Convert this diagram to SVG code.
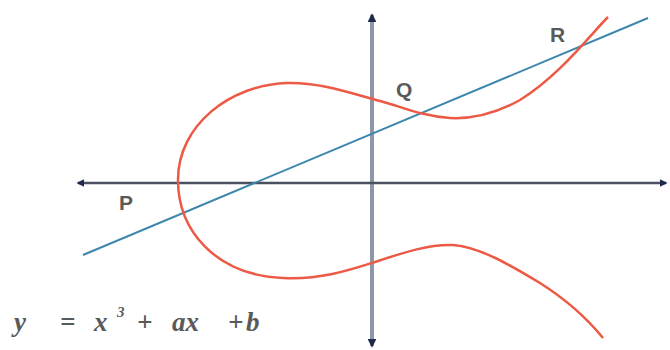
<svg xmlns="http://www.w3.org/2000/svg" width="670" height="350" viewBox="0 0 670 350">
<style>
.lbl{font-family:"Liberation Sans",Arial,sans-serif;font-size:21px;font-weight:bold;fill:#5a5a5a}
.eq{font-family:"Liberation Serif","Times New Roman",serif;font-style:italic;font-weight:bold;font-size:27px;fill:#5a5a5a}
</style>
<defs>
<marker id="ah" viewBox="0 0 10 10" refX="8" refY="5" markerWidth="3.2" markerHeight="3.2" orient="auto" markerUnits="strokeWidth">
<path d="M0,0 L10,5 L0,10 z" fill="#1e2a4a"/>
</marker>
<marker id="ah2" viewBox="0 0 10 10" refX="8" refY="5" markerWidth="2.2" markerHeight="2.2" orient="auto" markerUnits="strokeWidth">
<path d="M0,0 L10,5 L0,10 z" fill="#1e2a4a"/>
</marker>
</defs>
<rect width="670" height="350" fill="#fff"/>
<g id="axes">
<line x1="372" y1="340" x2="372" y2="15" stroke="#8e97aa" stroke-width="4" marker-end="url(#ah2)"/>
<line x1="372" y1="30" x2="372" y2="346" stroke="#8e97aa" stroke-width="4" marker-end="url(#ah2)"/>
<line x1="372" y1="183" x2="78" y2="183" stroke="#4a505e" stroke-width="2.5" marker-end="url(#ah)"/>
<line x1="372" y1="183" x2="666" y2="183" stroke="#4a505e" stroke-width="2.5" marker-end="url(#ah)"/>
</g>
<g id="line">
<line x1="83" y1="255" x2="648" y2="18" stroke="#3d86ad" stroke-width="2"/>
</g>
<g id="curve">
<path d="M608,17 C590,35 560,75 520,100 C495,114 470,119 450,118 C420,116 400,106 380,101 C350,93 320,82 287,83 C230,85 178,125 178,180 C178,230 215,275 283,278 C320,280 350,270 375,262 C405,252 430,244 453,245 C480,247 510,265 540,283 C570,302 590,322 603,338" fill="none" stroke="#ec5a45" stroke-width="2.5"/>
</g>
<g id="labels">
<text class="lbl" x="119" y="210">P</text>
<text class="lbl" x="396" y="97">Q</text>
<text class="lbl" x="550" y="42">R</text>
</g>
<g id="equation">
<text class="eq" x="14" y="331">y<tspan x="60">=</tspan><tspan x="94">x</tspan><tspan x="117" y="317" font-size="15">3</tspan><tspan x="137" y="331">+</tspan><tspan x="172">ax</tspan><tspan x="228">+</tspan><tspan x="246">b</tspan></text>
</g>
</svg>
